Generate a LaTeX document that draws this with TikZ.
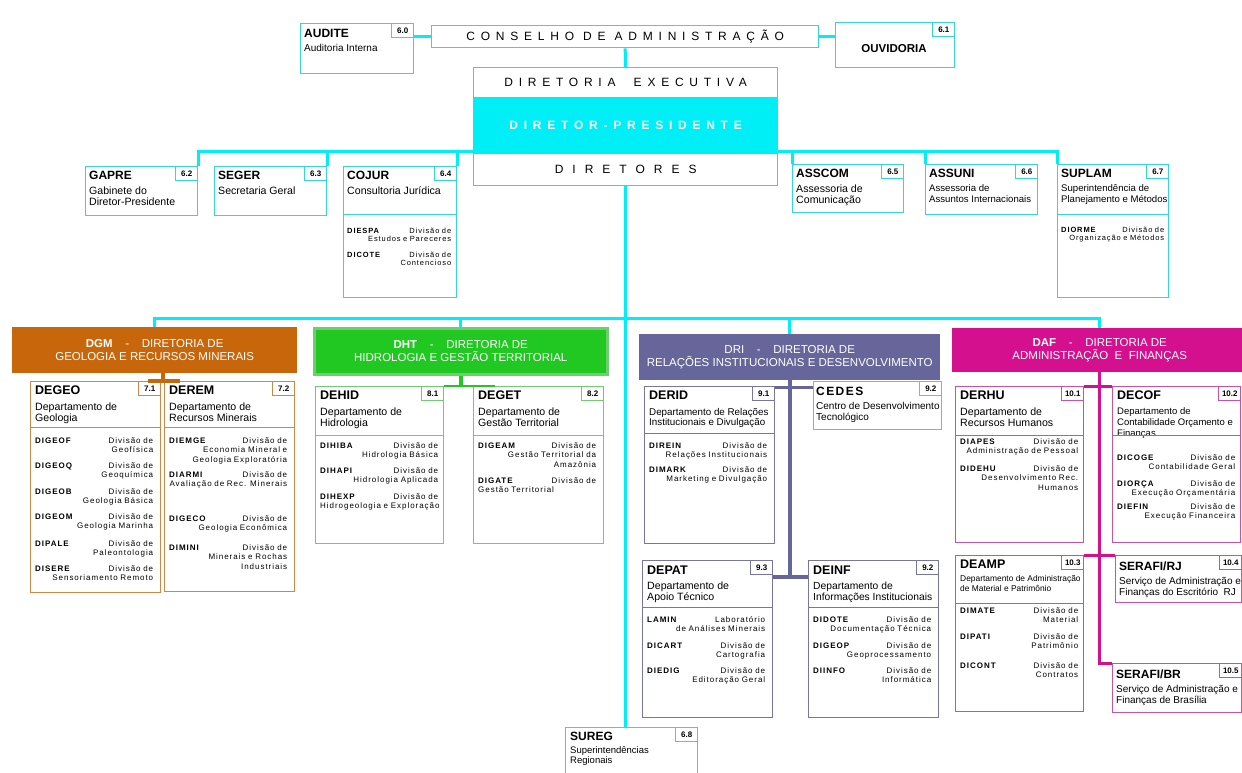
\documentclass[tikz,border=0pt]{standalone}
\usepackage{fontspec}
\setmainfont{Liberation Sans}
\newfontfamily\spaced[LetterSpace=48]{Liberation Sans}
\newfontfamily\spacedwide[LetterSpace=75]{Liberation Sans}
\newfontfamily\tracked[LetterSpace=12]{Liberation Sans}
\usepackage{tikz}
\usetikzlibrary{calc,positioning}

\definecolor{cpmcyan}{RGB}{0,238,246}
\definecolor{cpmline}{RGB}{50,214,224}
\definecolor{dgmfill}{RGB}{200,102,12}
\definecolor{dgmline}{RGB}{205,135,70}
\definecolor{dhtfill}{RGB}{34,200,34}
\definecolor{dhtline}{RGB}{110,205,110}
\definecolor{drifill}{RGB}{102,102,155}
\definecolor{driline}{RGB}{118,118,160}
\definecolor{daffill}{RGB}{212,16,142}
\definecolor{dafline}{RGB}{204,80,165}

\begin{document}
\begin{tikzpicture}[x=1pt,y=-1pt]
	\tikzstyle{unit}=[draw=cpmline,line width=1.3pt,fill=white,anchor=north west,inner sep=0pt]
	\tikzstyle{tag}=[draw=cpmline,line width=1pt,fill=white,anchor=north east,minimum width=22pt,minimum height=14pt,inner sep=0pt,font=\bfseries\fontsize{8}{9}\selectfont]
	\tikzstyle{unitname}=[anchor=north west,inner sep=0pt,font=\bfseries\fontsize{12}{14}\selectfont]
	\tikzstyle{unitdesc}=[inner sep=0pt,align=left,font=\fontsize{10.6}{11}\selectfont]
	\tikzstyle{division}=[anchor=base west,inner sep=0pt,align=right,text width=118pt,font=\tracked\fontsize{8}{9.5}\selectfont]
	\tikzstyle{directorate}=[anchor=north west,inner sep=0pt,text=white,align=center,font=\fontsize{11.5}{13.5}\selectfont]
	\tikzstyle{cpmlink}=[cpmcyan,line width=3pt]
	\tikzstyle{sepline}=[line width=1pt]

	\useasboundingbox (0,0) rectangle (1242,773);

	% conselho e diretoria
	\node[unit,minimum width=113pt,minimum height=50pt] (audite) at (300,23) {};
	\node[tag] (audite-n) at (audite.north east) {6.0};
	\node[unitname,below right=6pt and 4pt of audite.north west] (audite-t) {AUDITE};
	\node[unitdesc,below right=7pt and 0pt of audite-t.base west,font=\fontsize{10}{11}\selectfont] (audite-d) {Auditoria Interna};

	\node[unit,minimum width=387pt,minimum height=22pt,font=\spaced\fontsize{12}{14}\selectfont] (conselho) at (431,25) {CONSELHO DE ADMINISTRAÇÃO};

	\node[unit,minimum width=119pt,minimum height=45pt] (ouvidoria) at (835,22) {};
	\node[tag] (ouvidoria-n) at (ouvidoria.north east) {6.1};
	\node[unitname,anchor=base,font=\bfseries\fontsize{11.5}{13}\selectfont] (ouvidoria-t) at (894,53) {OUVIDORIA};

	\node[unit,minimum width=304pt,minimum height=30pt,font=\spaced\fontsize{12}{14}\selectfont] (executiva) at (473,67) {DIRETORIA\ \ EXECUTIVA};
	\node[unit,fill=cpmcyan,draw=cpmcyan,minimum width=304pt,minimum height=56pt,text=white,font=\spaced\bfseries\fontsize{12}{14}\selectfont] (presidente) at (473,97) {DIRETOR-PRESIDENTE};
	\node[unit,minimum width=304pt,minimum height=32pt,font=\spacedwide\fontsize{12}{14}\selectfont] (diretores) at (473,153) {DIRETORES};

	% orgaos da presidencia
	\node[unit,minimum width=112pt,minimum height=49pt] (gapre) at (85,166) {};
	\node[tag] (gapre-n) at (gapre.north east) {6.2};
	\node[unitname,below right=5pt and 4pt of gapre.north west] (gapre-t) {GAPRE};
	\node[unitdesc,below right=7pt and 0pt of gapre-t.base west] (gapre-d) {Gabinete do\\Diretor-Presidente};

	\node[unit,minimum width=112pt,minimum height=49pt] (seger) at (214,166) {};
	\node[tag] (seger-n) at (seger.north east) {6.3};
	\node[unitname,below right=5pt and 4pt of seger.north west] (seger-t) {SEGER};
	\node[unitdesc,below right=7pt and 0pt of seger-t.base west] (seger-d) {Secretaria Geral};

	\node[unit,minimum width=113pt,minimum height=131pt] (cojur) at (343,166) {};
	\node[tag] (cojur-n) at (cojur.north east) {6.4};
	\node[unitname,below right=5pt and 4pt of cojur.north west] (cojur-t) {COJUR};
	\node[unitdesc,below right=7pt and 0pt of cojur-t.base west] (cojur-d) {Consultoria Jurídica};
	\draw[cpmline,sepline] (cojur.west |- 0,214) -- (cojur.east |- 0,214);
	\node[division,text width=104pt,font=\tracked\fontsize{7.5}{8.5}\selectfont] (diespa) at (347,233) {\textbf{DIESPA}\hfill Divisão de\\Estudos e Pareceres};
	\node[division,text width=104pt,font=\tracked\fontsize{7.5}{8.5}\selectfont] (dicote) at (347,257) {\textbf{DICOTE}\hfill Divisão de\\Contencioso};

	\node[unit,minimum width=111pt,minimum height=48pt] (asscom) at (792,164) {};
	\node[tag] (asscom-n) at (asscom.north east) {6.5};
	\node[unitname,below right=5pt and 4pt of asscom.north west] (asscom-t) {ASSCOM};
	\node[unitdesc,below right=7pt and 0pt of asscom-t.base west] (asscom-d) {Assessoria de\\Comunicação};

	\node[unit,minimum width=112pt,minimum height=50pt] (assuni) at (925,164) {};
	\node[tag] (assuni-n) at (assuni.north east) {6.6};
	\node[unitname,below right=5pt and 4pt of assuni.north west] (assuni-t) {ASSUNI};
	\node[unitdesc,below right=7pt and 0pt of assuni-t.base west,font=\fontsize{9.6}{11}\selectfont] (assuni-d) {Assessoria de\\Assuntos Internacionais};

	\node[unit,minimum width=111pt,minimum height=133pt] (suplam) at (1057,164) {};
	\node[tag] (suplam-n) at (suplam.north east) {6.7};
	\node[unitname,below right=5pt and 4pt of suplam.north west] (suplam-t) {SUPLAM};
	\node[unitdesc,below right=7pt and 0pt of suplam-t.base west,font=\fontsize{9.6}{11}\selectfont] (suplam-d) {Superintendência de\\Planejamento e Métodos};
	\draw[cpmline,sepline] (suplam.west |- 0,214) -- (suplam.east |- 0,214);
	\node[division,text width=103pt,font=\tracked\fontsize{7.5}{8.5}\selectfont] (diorme) at (1061,232) {\textbf{DIORME}\hfill Divisão de\\Organização e Métodos};

	% diretorias
	\node[directorate,fill=dgmfill,minimum width=285pt,minimum height=46pt] (dgm) at (12,327) {\textbf{DGM}\hspace{1.1em}-\hspace{1.1em}DIRETORIA DE\\GEOLOGIA E RECURSOS MINERAIS};
	\node[directorate,fill=dhtfill,draw=dhtline,line width=2.5pt,minimum width=293pt,minimum height=46pt] (dht) at (313,327) {\textbf{DHT}\hspace{1.1em}-\hspace{1.1em}DIRETORIA DE\\HIDROLOGIA E GESTÃO TERRITORIAL};
	\node[directorate,fill=drifill,minimum width=301pt,minimum height=46pt] (dri) at (639,334) {DRI\hspace{1.1em}-\hspace{1.1em}DIRETORIA DE\\RELAÇÕES INSTITUCIONAIS E DESENVOLVIMENTO};
	\node[directorate,fill=daffill,minimum width=295pt,minimum height=44pt] (daf) at (952,328) {\textbf{DAF}\hspace{1.1em}-\hspace{1.1em}DIRETORIA DE\\ADMINISTRAÇÃO\ \ E\ \ FINANÇAS};

	% DGM
	\node[unit,draw=dgmline,minimum width=130pt,minimum height=211pt] (degeo) at (30,381) {};
	\node[tag,draw=dgmline] (degeo-n) at (degeo.north east) {7.1};
	\node[unitname,font=\bfseries\fontsize{12.5}{14}\selectfont,below right=5pt and 5pt of degeo.north west] (degeo-t) {DEGEO};
	\node[unitdesc,below right=8pt and 0pt of degeo-t.base west] (degeo-d) {Departamento de\\Geologia};
	\draw[dgmline,sepline] (degeo.west |- 0,427) -- (degeo.east |- 0,427);
	\node[division] (digeof) at (35,443) {\textbf{DIGEOF}\hfill Divisão de\\Geofísica};
	\node[division] (digeoq) at (35,468) {\textbf{DIGEOQ}\hfill Divisão de\\Geoquímica};
	\node[division] (digeob) at (35,494) {\textbf{DIGEOB}\hfill Divisão de\\Geologia Básica};
	\node[division] (digeom) at (35,519) {\textbf{DIGEOM}\hfill Divisão de\\Geologia Marinha};
	\node[division] (dipale) at (35,546) {\textbf{DIPALE}\hfill Divisão de\\Paleontologia};
	\node[division] (disere) at (35,571) {\textbf{DISERE}\hfill Divisão de\\Sensoriamento Remoto};

	\node[unit,draw=dgmline,minimum width=130pt,minimum height=210pt] (derem) at (164,381) {};
	\node[tag,draw=dgmline] (derem-n) at (derem.north east) {7.2};
	\node[unitname,font=\bfseries\fontsize{12.5}{14}\selectfont,below right=5pt and 5pt of derem.north west] (derem-t) {DEREM};
	\node[unitdesc,below right=8pt and 0pt of derem-t.base west] (derem-d) {Departamento de\\Recursos Minerais};
	\draw[dgmline,sepline] (derem.west |- 0,427) -- (derem.east |- 0,427);
	\node[division] (diemge) at (169,443) {\textbf{DIEMGE}\hfill Divisão de\\Economia Mineral e\\Geologia Exploratória};
	\node[division] (diarmi) at (169,477) {\textbf{DIARMI}\hfill Divisão de\\Avaliação de Rec. Minerais};
	\node[division] (digeco) at (169,521) {\textbf{DIGECO}\hfill Divisão de\\Geologia Econômica};
	\node[division] (dimini) at (169,550) {\textbf{DIMINI}\hfill Divisão de\\Minerais e Rochas\\Industriais};

	% DHT
	\node[unit,draw=dhtline,minimum width=128pt,minimum height=157pt] (dehid) at (315,386) {};
	\node[tag,draw=dhtline] (dehid-n) at (dehid.north east) {8.1};
	\node[unitname,font=\bfseries\fontsize{12.5}{14}\selectfont,below right=5pt and 5pt of dehid.north west] (dehid-t) {DEHID};
	\node[unitdesc,below right=8pt and 0pt of dehid-t.base west] (dehid-d) {Departamento de\\Hidrologia};
	\draw[dhtline,sepline] (dehid.west |- 0,435) -- (dehid.east |- 0,435);
	\node[division] (dihiba) at (320,448) {\textbf{DIHIBA}\hfill Divisão de\\Hidrologia Básica};
	\node[division] (dihapi) at (320,473) {\textbf{DIHAPI}\hfill Divisão de\\Hidrologia Aplicada};
	\node[division] (dihexp) at (320,499) {\textbf{DIHEXP}\hfill Divisão de\\Hidrogeologia e Exploração};

	\node[unit,draw=dhtline,minimum width=130pt,minimum height=157pt] (deget) at (473,386) {};
	\node[tag,draw=dhtline] (deget-n) at (deget.north east) {8.2};
	\node[unitname,font=\bfseries\fontsize{12.5}{14}\selectfont,below right=5pt and 5pt of deget.north west] (deget-t) {DEGET};
	\node[unitdesc,below right=8pt and 0pt of deget-t.base west] (deget-d) {Departamento de\\Gestão Territorial};
	\draw[dhtline,sepline] (deget.west |- 0,435) -- (deget.east |- 0,435);
	\node[division] (digeam) at (478,448) {\textbf{DIGEAM}\hfill Divisão de\\Gestão Territorial da\\Amazônia};
	\node[division] (digate) at (478,483) {\textbf{DIGATE}\hfill Divisão de\\Gestão Territorial\hfill\null};

	% DRI
	\node[unit,draw=driline,minimum width=130pt,minimum height=157pt] (derid) at (644,386) {};
	\node[tag,draw=driline] (derid-n) at (derid.north east) {9.1};
	\node[unitname,font=\bfseries\fontsize{12.5}{14}\selectfont,below right=5pt and 5pt of derid.north west] (derid-t) {DERID};
	\node[unitdesc,below right=8pt and 0pt of derid-t.base west,font=\fontsize{9.8}{10.5}\selectfont] (derid-d) {Departamento de Relações\\Institucionais e Divulgação};
	\draw[driline,sepline] (derid.west |- 0,433) -- (derid.east |- 0,433);
	\node[division] (direin) at (649,448) {\textbf{DIREIN}\hfill Divisão de\\Relações Institucionais};
	\node[division] (dimark) at (649,472) {\textbf{DIMARK}\hfill Divisão de\\Marketing e Divulgação};

	\node[unit,minimum width=128pt,minimum height=48pt] (cedes) at (813,381) {};
	\node[tag] (cedes-n) at (cedes.north east) {9.2};
	\node[unitname,font=\tracked\bfseries\fontsize{12}{14}\selectfont,below right=6pt and 3pt of cedes.north west] (cedes-t) {CEDES};
	\node[unitdesc,below right=6pt and 0pt of cedes-t.base west,font=\fontsize{10}{11}\selectfont] (cedes-d) {Centro de Desenvolvimento\\Tecnológico};

	\node[unit,draw=driline,minimum width=130pt,minimum height=157pt] (depat) at (642,560) {};
	\node[tag,draw=driline] (depat-n) at (depat.north east) {9.3};
	\node[unitname,font=\bfseries\fontsize{12.5}{14}\selectfont,below right=6pt and 5pt of depat.north west] (depat-t) {DEPAT};
	\node[unitdesc,below right=7pt and 0pt of depat-t.base west] (depat-d) {Departamento de\\Apoio Técnico};
	\draw[driline,sepline] (depat.west |- 0,607) -- (depat.east |- 0,607);
	\node[division] (lamin) at (647,622) {\textbf{LAMIN}\hfill Laboratório\\de Análises Minerais};
	\node[division] (dicart) at (647,648) {\textbf{DICART}\hfill Divisão de\\Cartografia};
	\node[division] (diedig) at (647,673) {\textbf{DIEDIG}\hfill Divisão de\\Editoração Geral};

	\node[unit,draw=driline,minimum width=130pt,minimum height=157pt] (deinf) at (808,560) {};
	\node[tag,draw=driline] (deinf-n) at (deinf.north east) {9.2};
	\node[unitname,font=\bfseries\fontsize{12.5}{14}\selectfont,below right=6pt and 5pt of deinf.north west] (deinf-t) {DEINF};
	\node[unitdesc,below right=7pt and 0pt of deinf-t.base west,font=\fontsize{10.3}{11}\selectfont] (deinf-d) {Departamento de\\Informações Institucionais};
	\draw[driline,sepline] (deinf.west |- 0,607) -- (deinf.east |- 0,607);
	\node[division] (didote) at (813,622) {\textbf{DIDOTE}\hfill Divisão de\\Documentação Técnica};
	\node[division] (digeop) at (813,648) {\textbf{DIGEOP}\hfill Divisão de\\Geoprocessamento};
	\node[division] (diinfo) at (813,673) {\textbf{DIINFO}\hfill Divisão de\\Informática};

	% SUREG
	\node[unit,minimum width=132pt,minimum height=56pt] (sureg) at (565,727) {};
	\node[tag] (sureg-n) at (sureg.north east) {6.8};
	\node[unitname,below right=5pt and 5pt of sureg.north west] (sureg-t) {SUREG};
	\node[unitdesc,below right=6pt and 0pt of sureg-t.base west,font=\fontsize{9.5}{10}\selectfont] (sureg-d) {Superintendências\\Regionais};

	% DAF
	\node[unit,draw=dafline,minimum width=128pt,minimum height=156pt] (derhu) at (955,386) {};
	\node[tag,draw=dafline] (derhu-n) at (derhu.north east) {10.1};
	\node[unitname,font=\bfseries\fontsize{12.5}{14}\selectfont,below right=5pt and 5pt of derhu.north west] (derhu-t) {DERHU};
	\node[unitdesc,below right=8pt and 0pt of derhu-t.base west] (derhu-d) {Departamento de\\Recursos Humanos};
	\draw[dafline,sepline] (derhu.west |- 0,435) -- (derhu.east |- 0,435);
	\node[division] (diapes) at (960,444) {\textbf{DIAPES}\hfill Divisão de\\Administração de Pessoal};
	\node[division] (didehu) at (960,471) {\textbf{DIDEHU}\hfill Divisão de\\Desenvolvimento Rec.\\Humanos};

	\node[unit,draw=dafline,minimum width=128pt,minimum height=156pt] (decof) at (1112,386) {};
	\node[tag,draw=dafline] (decof-n) at (decof.north east) {10.2};
	\node[unitname,font=\bfseries\fontsize{12.5}{14}\selectfont,below right=5pt and 5pt of decof.north west] (decof-t) {DECOF};
	\node[unitdesc,below right=7pt and 0pt of decof-t.base west,font=\fontsize{9.5}{11}\selectfont] (decof-d) {Departamento de\\Contabilidade Orçamento e\\Finanças};
	\draw[dafline,sepline] (decof.west |- 0,435) -- (decof.east |- 0,435);
	\node[division] (dicoge) at (1117,460) {\textbf{DICOGE}\hfill Divisão de\\Contabilidade Geral};
	\node[division] (diorca) at (1117,486) {\textbf{DIORÇA}\hfill Divisão de\\Execução Orçamentária};
	\node[division] (diefin) at (1117,509) {\textbf{DIEFIN}\hfill Divisão de\\Execução Financeira};

	\node[unit,draw=dafline,minimum width=128pt,minimum height=156pt] (deamp) at (955,555) {};
	\node[tag,draw=dafline] (deamp-n) at (deamp.north east) {10.3};
	\node[unitname,font=\bfseries\fontsize{12.5}{14}\selectfont,below right=5pt and 5pt of deamp.north west] (deamp-t) {DEAMP};
	\node[unitdesc,below right=6pt and 0pt of deamp-t.base west,font=\fontsize{8.4}{10.5}\selectfont] (deamp-d) {Departamento de Administração\\de Material e Patrimônio};
	\draw[dafline,sepline] (deamp.west |- 0,603) -- (deamp.east |- 0,603);
	\node[division] (dimate) at (960,613) {\textbf{DIMATE}\hfill Divisão de\\Material};
	\node[division] (dipati) at (960,639) {\textbf{DIPATI}\hfill Divisão de\\Patrimônio};
	\node[division] (dicont) at (960,668) {\textbf{DICONT}\hfill Divisão de\\Contratos};

	\node[unit,draw=dafline,minimum width=126pt,minimum height=47pt] (serafirj) at (1115,555) {};
	\node[tag,draw=dafline] (serafirj-n) at (serafirj.north east) {10.4};
	\node[unitname,below right=7pt and 4pt of serafirj.north west] (serafirj-t) {SERAFI/RJ};
	\node[unitdesc,below right=6pt and 0pt of serafirj-t.base west,font=\fontsize{10}{11}\selectfont] (serafirj-d) {Serviço de Administração e\\Finanças do Escritório\ \ RJ};

	\node[unit,draw=dafline,minimum width=129pt,minimum height=49pt] (serafibr) at (1112,663) {};
	\node[tag,draw=dafline] (serafibr-n) at (serafibr.north east) {10.5};
	\node[unitname,below right=7pt and 4pt of serafibr.north west] (serafibr-t) {SERAFI/BR};
	\node[unitdesc,below right=6pt and 0pt of serafibr-t.base west,font=\fontsize{10}{11}\selectfont] (serafibr-d) {Serviço de Administração e\\Finanças de Brasília};

	% ligacoes
	\draw[cpmlink] (audite.east |- conselho) -- (conselho.west);
	\draw[cpmlink] (conselho.east) -- (ouvidoria.west |- conselho);
	\draw[cpmlink] (conselho.south) -- (executiva.north);

	\coordinate (bus1) at (625,152);
	\draw[cpmlink] (gapre.north east) |- (bus1) -| (suplam.north west);
	\draw[cpmlink] (seger.north east) -- (seger.north east |- bus1);
	\draw[cpmlink] (cojur.north east) -- (cojur.north east |- bus1);
	\draw[cpmlink] (asscom.north west) -- (asscom.north west |- bus1);
	\draw[cpmlink] (assuni.north west) -- (assuni.north west |- bus1);

	\coordinate (bus2) at (625,318);
	\draw[cpmlink] (diretores.south) -- (diretores.south |- sureg.north);
	\draw[cpmlink] (dgm.north) |- (bus2) -| (daf.north);
	\draw[cpmlink] (dht.north) -- (dht.north |- bus2);
	\draw[cpmlink] (dri.north) -- (dri.north |- bus2);

	\coordinate (dgm-j) at ($(degeo.north east)!.5!(derem.north west)$);
	\draw[dgmfill,line width=4pt] (dgm.south -| dgm-j) -- (dgm-j);
	\draw[dgmfill,line width=4pt] ([xshift=-13pt]degeo.north east) -- ([xshift=16pt]derem.north west);

	\draw[dhtfill,line width=3.5pt] (dht.south) -- (dht.south |- dehid.north);
	\draw[dhtfill,line width=2pt] (dehid.north east) -- ([xshift=22pt]deget.north west);

	\draw[drifill,line width=4pt] (dri.south) |- ([yshift=-17pt]deinf.north west);
	\draw[drifill,line width=4pt] ([yshift=-17pt]depat.north east) -- ([yshift=-17pt]deinf.north west);
	\draw[drifill,line width=3pt] ([yshift=-1pt]derid.north east) -- ([yshift=-1pt]derid.north east -| cedes.west);

	\draw[daffill,line width=3pt] (daf.south) |- (serafibr.north west);
	\draw[daffill,line width=3pt] (derhu.north east) -- (decof.north west);
	\draw[daffill,line width=3pt] (deamp.north east) -- (serafirj.north west);
\end{tikzpicture}
\end{document}
